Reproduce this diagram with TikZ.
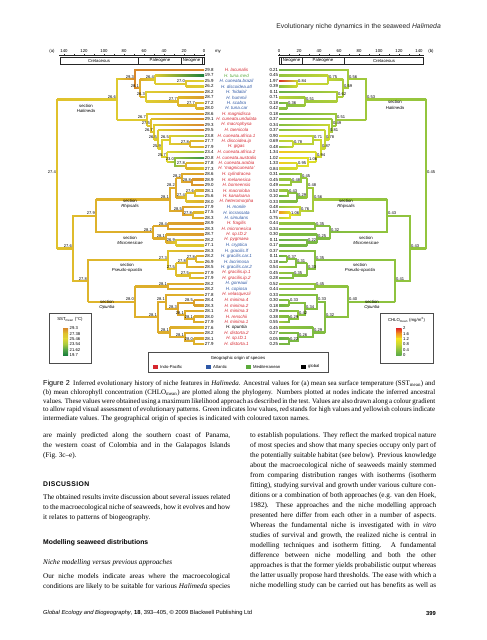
\documentclass[tikz,border=0pt]{standalone}
\usepackage{fontspec}
\setmainfont{Liberation Serif}
\setsansfont{Liberation Sans}
\usetikzlibrary{calc,backgrounds}

\definecolor{s0}{HTML}{1B7F3B}
\definecolor{s1}{HTML}{52A447}
\definecolor{s2}{HTML}{A6C93E}
\definecolor{s3}{HTML}{DCD535}
\definecolor{s4}{HTML}{E0C22C}
\definecolor{s5}{HTML}{D8882A}
\definecolor{c0}{HTML}{5DAA48}
\definecolor{c1}{HTML}{8CC23F}
\definecolor{c2}{HTML}{C8D634}
\definecolor{c3}{HTML}{F2E41F}
\definecolor{c4}{HTML}{F2941E}
\definecolor{c5}{HTML}{DE2428}
\definecolor{ipred}{HTML}{D6262E}
\definecolor{atblue}{HTML}{2E58A6}
\definecolor{medgreen}{HTML}{5BAA3C}

\newcommand\mapcol[5]{%
  \pgfmathsetmacro\mct{max(0,min(4.999,(#2-#3)/#4))}%
  \pgfmathtruncatemacro\mck{\mct}%
  \pgfmathtruncatemacro\mcn{\mck+1}%
  \pgfmathsetmacro\mcp{(\mct-\mck)*100}%
  \colorlet{#5}{#1\mcn!\mcp!#1\mck}}
\newcommand\leaf[5]{%
  \coordinate (at#1) at (204,{70+(#1-1)*5.48});
  \coordinate (bt#1) at (279,{70+(#1-1)*5.48});
  \expandafter\def\csname svt#1\endcsname{#4}%
  \expandafter\def\csname cvt#1\endcsname{#5}%
  \node[tval,anchor=west] (st#1) at (at#1) {#4};
  \node[taxon,text=#3] (nm#1) at (236.5,{70+(#1-1)*5.48}) {#2};
  \node[tval,anchor=east] (ct#1) at (bt#1) {#5};}
\newcommand\inode[5]{%
  \coordinate (a#1) at (#2,{70+(#3-1)*5.48});
  \coordinate (b#1) at ({483-#2},{70+(#3-1)*5.48});
  \expandafter\def\csname sv#1\endcsname{#4}%
  \expandafter\def\csname cv#1\endcsname{#5}%
  \node[nvall] (la#1) at (a#1) {#4};
  \node[nvalr] (lb#1) at (b#1) {#5};}
\newcommand\hbranch[2]{%
  \mapcol{s}{\csname sv#1\endcsname}{19.7}{1.92}{pc}%
  \mapcol{s}{\csname sv#2\endcsname}{19.7}{1.92}{cc}%
  \shade[left color=pc,right color=cc] ($(a#2 -| a#1)+(0,-0.65)$) rectangle ($(a#2)+(0,0.65)$);
  \mapcol{c}{\csname cv#1\endcsname}{0}{0.4}{pc}%
  \mapcol{c}{\csname cv#2\endcsname}{0}{0.4}{cc}%
  \shade[left color=cc,right color=pc] ($(b#2)+(0,-0.65)$) rectangle ($(b#2 -| b#1)+(0,0.65)$);}
\newcommand\clade[3]{%
  \begin{scope}[on background layer]
  \mapcol{s}{\csname sv#1\endcsname}{19.7}{1.92}{pc}%
  \draw[branch,pc] (a#2 -| a#1) -- (a#3 -| a#1);
  \mapcol{c}{\csname cv#1\endcsname}{0}{0.4}{pc}%
  \draw[branch,pc] (b#2 -| b#1) -- (b#3 -| b#1);
  \hbranch{#1}{#2}\hbranch{#1}{#3}%
  \end{scope}}
\newcommand\jl[2][187pt]{\makebox[#1][s]{#2}}

\begin{document}
\begin{tikzpicture}[x=1pt,y=-1pt,
  tval/.style={font=\sffamily\fontsize{4.4}{5}\selectfont,inner sep=0.7pt},
  taxon/.style={font=\sffamily\itshape\fontsize{4.5}{5}\selectfont,inner sep=0pt},
  nvall/.style={font=\sffamily\fontsize{4.1}{5}\selectfont,inner sep=0.2pt,anchor=south east,xshift=-0.7pt,yshift=0.5pt},
  nvalr/.style={font=\sffamily\fontsize{4.1}{5}\selectfont,inner sep=0.2pt,anchor=south west,xshift=0.7pt,yshift=0.5pt},
  branch/.style={line width=1.3pt,line cap=rect},
  seclab/.style={font=\sffamily\fontsize{4.3}{5.2}\selectfont,align=center,inner sep=0pt},
  axlab/.style={font=\sffamily\fontsize{4.3}{5}\selectfont,inner sep=0pt},
  thin/.style={line width=0.45pt,black!85},
  legbox/.style={line width=0.8pt,black!70},
  leglab/.style={font=\sffamily\fontsize{4.2}{5}\selectfont,inner sep=0pt,anchor=west},
  head/.style={font=\sffamily\fontsize{6.8}{8}\selectfont,text=black!85,inner sep=0pt},
  capt/.style={font=\fontsize{6.95}{8.8}\selectfont,align=left,inner sep=0pt,anchor=north west},
  body/.style={font=\fontsize{7.2}{10}\selectfont,align=left,inner sep=0pt,anchor=north west},
  heading/.style={font=\sffamily\bfseries\fontsize{6.8}{8}\selectfont,inner sep=0pt,anchor=west},
  foot/.style={font=\sffamily\fontsize{5.8}{7}\selectfont,inner sep=0pt}]
\begin{scope}[on background layer]
\fill[white] (0,0) rectangle (487,640);
\end{scope}
\useasboundingbox (0,0) rectangle (487,640);

\node[head,anchor=east] (head) at (441,27) {Evolutionary niche dynamics in the seaweed \textit{Halimeda}};

\node[axlab] (pa) at (52,51) {(a)};
\node[axlab] (pb) at (431,51) {(b)};
\node[axlab] (my) at (218,51.5) {my};
\draw[thin] (59,55.5) -- (205,55.5) (278,55.5) -- (424,55.5);
\foreach \v in {0,10,...,140} {\draw[thin] ({204-\v},55.5) -- ({204-\v},53.8) ({279+\v},55.5) -- ({279+\v},53.8);}
\foreach \v in {0,20,...,140} {\node[axlab] (al\v) at ({204-\v},51.5) {\v}; \node[axlab] (ar\v) at ({279+\v},51.5) {\v};}
\draw[thin] (60,57.5) rectangle (204,64) (138.5,57.5) -- (138.5,64) (181,57.5) -- (181,64) (202,57.5) -- (202,64);
\draw[thin] (279,57.5) rectangle (423,64) (281,57.5) -- (281,64) (302,57.5) -- (302,64) (344.5,57.5) -- (344.5,64);
\node[axlab] (crea) at (99,60.8) {Cretaceous};
\node[axlab] (pala) at (160,60.8) {Paleogene};
\node[axlab] (neoa) at (191.5,60.8) {Neogene};
\node[axlab] (neob) at (291.5,60.8) {Neogene};
\node[axlab] (palb) at (323,60.8) {Paleogene};
\node[axlab] (creb) at (384,60.8) {Cretaceous};

\leaf{1}{H. lacunalis}{ipred}{29.8}{0.21}
\leaf{2}{H. tuna.med}{medgreen}{19.7}{0.45}
\leaf{3}{H. cuneata.brazil}{atblue}{25.9}{1.97}
\leaf{4}{H. discoidea.atl}{atblue}{26.2}{0.39}
\leaf{5}{H. `hidalai'}{atblue}{28.2}{0.11}
\leaf{6}{H. hummii}{atblue}{28.7}{0.71}
\leaf{7}{H. scabra}{atblue}{27.2}{0.18}
\leaf{8}{H. tuna.car}{atblue}{28.0}{0.42}
\leaf{9}{H. magnidisca}{ipred}{28.6}{0.18}
\leaf{10}{H. cuneata.undulata}{ipred}{29.1}{0.37}
\leaf{11}{H. macrophysa}{ipred}{29.3}{0.34}
\leaf{12}{H. taenicola}{ipred}{29.5}{0.37}
\leaf{13}{H. cuneata.africa.1}{ipred}{23.8}{0.90}
\leaf{14}{H. discoidea.ip}{ipred}{27.7}{0.69}
\leaf{15}{H. gigas}{ipred}{27.9}{0.48}
\leaf{16}{H. cuneata.africa.2}{ipred}{23.4}{1.34}
\leaf{17}{H. cuneata.australis}{ipred}{20.8}{1.02}
\leaf{18}{H. cuneata.arabia}{ipred}{27.8}{1.33}
\leaf{19}{H. `magnicuneata'}{ipred}{27.3}{0.84}
\leaf{20}{H. cylindracea}{ipred}{28.6}{0.31}
\leaf{21}{H. melanesica}{ipred}{28.9}{0.45}
\leaf{22}{H. borneensis}{ipred}{29.0}{0.49}
\leaf{23}{H. macroloba}{ipred}{28.1}{0.52}
\leaf{24}{H. kanaloana}{ipred}{25.6}{0.10}
\leaf{25}{H. heteromorpha}{ipred}{28.0}{0.33}
\leaf{26}{H. monile}{atblue}{27.9}{0.48}
\leaf{27}{H. incrassata}{atblue}{27.5}{1.57}
\leaf{28}{H. simulans}{atblue}{28.3}{0.75}
\leaf{29}{H. fragilis}{ipred}{28.9}{0.44}
\leaf{30}{H. micronesica}{ipred}{28.3}{0.34}
\leaf{31}{H. sp.ID.2}{ipred}{28.7}{0.30}
\leaf{32}{H. pygmaea}{ipred}{28.2}{0.11}
\leaf{33}{H. cryptica}{atblue}{27.1}{0.17}
\leaf{34}{H. gracilis.lf}{atblue}{28.3}{0.37}
\leaf{35}{H. gracilis.car.1}{atblue}{28.2}{0.11}
\leaf{36}{H. lacrimosa}{atblue}{26.9}{0.18}
\leaf{37}{H. gracilis.car.2}{atblue}{28.5}{0.54}
\leaf{38}{H. gracilis.ip.1}{ipred}{27.9}{0.45}
\leaf{39}{H. gracilis.ip.2}{ipred}{27.9}{0.28}
\leaf{40}{H. goreauii}{atblue}{28.2}{0.52}
\leaf{41}{H. copiosa}{atblue}{28.2}{0.44}
\leaf{42}{H. velasquezii}{ipred}{27.8}{0.33}
\leaf{43}{H. minima.4}{ipred}{28.4}{0.30}
\leaf{44}{H. minima.2}{ipred}{28.3}{0.18}
\leaf{45}{H. minima.3}{ipred}{28.1}{0.29}
\leaf{46}{H. renschii}{ipred}{28.0}{0.38}
\leaf{47}{H. minima.1}{ipred}{27.9}{0.55}
\leaf{48}{H. opuntia}{black}{27.6}{0.45}
\leaf{49}{H. distorta.2}{ipred}{28.2}{0.27}
\leaf{50}{H. sp.ID.1}{ipred}{28.1}{0.05}
\leaf{51}{H. distorta.1}{ipred}{27.9}{0.25}

\inode{Root}{57}{19.97}{27.4}{0.45}
\inode{H}{117}{6.37}{26.6}{0.53}
\inode{A}{135}{2.656}{29.3}{0.56}
\inode{C}{140}{4.3125}{28.1}{0.59}
\inode{D}{155}{2.75}{26.4}{0.75}
\inode{F}{186}{3.5}{27.0}{0.84}
\inode{E}{146}{5.875}{26.3}{0.62}
\inode{I}{178}{6.75}{27.7}{0.51}
\inode{J}{196}{7.5}{27.7}{0.36}
\inode{K}{147}{10.08}{26.7}{0.51}
\inode{K1}{151}{11.17}{27.5}{0.49}
\inode{K2}{154}{12.33}{26.7}{0.81}
\inode{K3}{158}{13.66}{26.5}{0.78}
\inode{K4}{162}{15.31}{25.9}{0.87}
\inode{K4b}{170}{13.75}{26.5}{0.71}
\inode{K4a}{190}{14.5}{27.8}{0.78}
\inode{K4e}{167}{16.875}{25.7}{0.94}
\inode{K4d}{175}{17.75}{23.0}{1.06}
\inode{K4c}{186}{18.5}{27.8}{0.95}
\inode{N}{73}{33.56}{27.6}{0.43}
\inode{RM}{96}{27.625}{27.9}{0.43}
\inode{Rh}{170}{24.625}{28.1}{0.56}
\inode{U}{176}{22.5}{28.2}{0.48}
\inode{U1}{182}{20.75}{28.2}{0.45}
\inode{U1i}{192}{21.5}{28.8}{0.48}
\inode{U2}{186}{24.25}{27.4}{0.29}
\inode{U2i}{195}{23.5}{27.6}{0.43}
\inode{V}{183}{26.75}{28.5}{0.76}
\inode{Vi}{193}{27.5}{27.8}{1.06}
\inode{Mi}{153}{30.625}{28.2}{0.32}
\inode{M1}{168}{29.5}{28.4}{0.35}
\inode{M2}{166}{31.75}{28.1}{0.25}
\inode{M2i}{176}{32.5}{26.9}{0.22}
\inode{PO}{88}{39.5}{27.8}{0.41}
\inode{Ps}{168}{35.69}{27.3}{0.35}
\inode{Pd}{176}{37.375}{27.5}{0.33}
\inode{Pb}{187}{36.25}{27.8}{0.31}
\inode{Pa}{196}{35.5}{27.8}{0.37}
\inode{Pc}{190}{38.5}{27.5}{0.35}
\inode{Op}{135}{43.3}{28.0}{0.40}
\inode{O1}{168}{40.5}{28.1}{0.45}
\inode{O2}{158}{46.09}{28.1}{0.32}
\inode{O2a}{166}{43.31}{28.1}{0.33}
\inode{Om}{178}{44.625}{28.3}{0.34}
\inode{Om1}{194}{43.5}{28.5}{0.33}
\inode{Om2}{185}{45.75}{28.1}{0.42}
\inode{Om2i}{194}{46.5}{28.1}{0.29}
\inode{O2b}{170}{48.875}{28.1}{0.29}
\inode{Ob1}{185}{49.75}{28.1}{0.26}
\inode{Ob2}{194}{50.5}{28.0}{0.22}

\clade{Root}{H}{N} \clade{H}{A}{K} \clade{A}{t1}{C} \clade{C}{D}{E} \clade{D}{t2}{F}
\clade{F}{t3}{t4} \clade{E}{t5}{I} \clade{I}{t6}{J} \clade{J}{t7}{t8}
\clade{K}{t9}{K1} \clade{K1}{t10}{K2} \clade{K2}{t11}{K3} \clade{K3}{t12}{K4}
\clade{K4}{K4b}{K4e} \clade{K4b}{t13}{K4a} \clade{K4a}{t14}{t15}
\clade{K4e}{t16}{K4d} \clade{K4d}{t17}{K4c} \clade{K4c}{t18}{t19}
\clade{N}{RM}{PO} \clade{RM}{Rh}{Mi} \clade{Rh}{U}{V} \clade{U}{U1}{U2}
\clade{U1}{t20}{U1i} \clade{U1i}{t21}{t22} \clade{U2}{U2i}{t25} \clade{U2i}{t23}{t24}
\clade{V}{t26}{Vi} \clade{Vi}{t27}{t28}
\clade{Mi}{M1}{M2} \clade{M1}{t29}{t30} \clade{M2}{t31}{M2i} \clade{M2i}{t32}{t33}
\clade{PO}{Ps}{Op} \clade{Ps}{t34}{Pd} \clade{Pd}{Pb}{Pc} \clade{Pb}{Pa}{t37}
\clade{Pa}{t35}{t36} \clade{Pc}{t38}{t39}
\clade{Op}{O1}{O2} \clade{O1}{t40}{t41} \clade{O2}{O2a}{O2b} \clade{O2a}{t42}{Om}
\clade{Om}{Om1}{Om2} \clade{Om1}{t43}{t44} \clade{Om2}{t45}{Om2i} \clade{Om2i}{t46}{t47}
\clade{O2b}{t48}{Ob1} \clade{Ob1}{t49}{Ob2} \clade{Ob2}{t50}{t51}

\node[seclab] (sha) at (86,108.5) {section\\\textit{Halimeda}};
\node[seclab] (shb) at (395,105) {section\\\textit{Halimeda}};
\node[seclab] (sra) at (130,203.5) {section\\\textit{Rhipsalis}};
\node[seclab] (srb) at (346,204) {section\\\textit{Rhipsalis}};
\node[seclab] (sma) at (130,240.5) {section\\\textit{Micronesicae}};
\node[seclab] (smb) at (366,240.5) {section\\\textit{Micronesicae}};
\node[seclab] (spa) at (127,267.5) {section\\\textit{Pseudo-opuntia}};
\node[seclab] (spb) at (360,267.5) {section\\\textit{Pseudo-opuntia}};
\node[seclab] (soa) at (107,304.5) {section\\\textit{Opuntia}};
\node[seclab] (sob) at (372,305) {section\\\textit{Opuntia}};

\draw[legbox] (49,313) rectangle (91,363);
\node[axlab] (sstt) at (70,319.5) {SST\textsubscript{mean} (°C)};
\shade[top color=s5,bottom color=s4] (63,328) rectangle (68,333.5);
\shade[top color=s4,bottom color=s3] (63,333.4) rectangle (68,338.9);
\shade[top color=s3,bottom color=s2] (63,338.8) rectangle (68,344.3);
\shade[top color=s2,bottom color=s1] (63,344.2) rectangle (68,349.7);
\shade[top color=s1,bottom color=s0] (63,349.6) rectangle (68,355);
\node[leglab] (ss1) at (69.5,328.5) {29.3};
\node[leglab] (ss2) at (69.5,333.8) {27.38};
\node[leglab] (ss3) at (69.5,339.1) {25.46};
\node[leglab] (ss4) at (69.5,344.4) {23.54};
\node[leglab] (ss5) at (69.5,349.7) {21.62};
\node[leglab] (ss6) at (69.5,355) {19.7};

\draw[legbox] (380,313) rectangle (433,363);
\node[axlab] (chlt) at (406.5,319.5) {CHLO\textsubscript{mean} (mg/m\textsuperscript{3})};
\shade[top color=c5,bottom color=c4] (396,328) rectangle (401.5,333.5);
\shade[top color=c4,bottom color=c3] (396,333.4) rectangle (401.5,338.9);
\shade[top color=c3,bottom color=c2] (396,338.8) rectangle (401.5,344.3);
\shade[top color=c2,bottom color=c1] (396,344.2) rectangle (401.5,349.7);
\shade[top color=c1,bottom color=c0] (396,349.6) rectangle (401.5,355);
\node[leglab] (cc1) at (403,328.5) {2};
\node[leglab] (cc2) at (403,333.8) {1.6};
\node[leglab] (cc3) at (403,339.1) {1.2};
\node[leglab] (cc4) at (403,344.4) {0.8};
\node[leglab] (cc5) at (403,349.7) {0.4};
\node[leglab] (cc6) at (403,355) {0};

\draw[legbox] (148,352.5) rectangle (328,372);
\node[axlab] (geot) at (238,358.5) {Geographic origin of species};
\fill[ipred] (152.5,364.7) rectangle (157.5,368.7);
\node[leglab] (gip) at (160,366.7) {Indo-Pacific};
\fill[atblue] (205.5,364.7) rectangle (210.5,368.7);
\node[leglab] (gat) at (213,366.7) {Atlantic};
\fill[medgreen] (245.5,364.7) rectangle (250.5,368.7);
\node[leglab] (gme) at (253,366.7) {Mediterranean};
\fill[black] (300.5,364.7) rectangle (305.5,368.7);
\node[leglab] (ggl) at (308,366.7) {global};

\node[capt] (capt) at (43,380) {%
\jl[392pt]{\textsf{\fontsize{7.2}{8.8}\selectfont Figure 2}\enspace Inferred evolutionary history of niche features in \textit{Halimeda}. Ancestral values for (a) mean sea surface temperature (SST\textsubscript{mean}) and}\\
\jl[392pt]{(b) mean chlorophyll concentration (CHLO\textsubscript{mean}) are plotted along the phylogeny. Numbers plotted at nodes indicate the inferred ancestral}\\
\jl[392pt]{values. These values were obtained using a maximum likelihood approach as described in the test. Values are also drawn along a colour gradient}\\
\jl[392pt]{to allow rapid visual assessment of evolutionary patterns. Green indicates low values, red stands for high values and yellowish colours indicate}\\
intermediate values. The geographical origin of species is indicated with coloured taxon names.};

\node[body] (p1) at (43,432.5) {%
\jl{are mainly predicted along the southern coast of Panama,}\\
\jl{the western coast of Colombia and in the Galapagos Islands}\\
(Fig.~3c--e).};
\node[heading] (disc) at (43,484) {\addfontfeatures{LetterSpace=6}DISCUSSION};
\node[body] (p2) at (43,494.5) {%
\jl{The obtained results invite discussion about several issues related}\\
\jl{to the macroecological niche of seaweeds, how it evolves and how}\\
it relates to patterns of biogeography.};
\node[heading] (modl) at (43,543) {Modelling seaweed distributions};
\node[body,anchor=west] (nich) at (43,563) {\textit{Niche modelling versus previous approaches}};
\node[body] (p3) at (43,573.5) {%
\jl{Our niche models indicate areas where the macroecological}\\
\jl{conditions are likely to be suitable for various \textit{Halimeda} species}};
\node[body] (p4) at (250,432.5) {%
\jl[186pt]{to establish populations. They reflect the marked tropical nature}\\
\jl[186pt]{of most species and show that many species occupy only part of}\\
\jl[186pt]{the potentially suitable habitat (see below). Previous knowledge}\\
\jl[186pt]{about the macroecological niche of seaweeds mainly stemmed}\\
\jl[186pt]{from comparing distribution ranges with isotherms (isotherm}\\
\jl[186pt]{fitting), studying survival and growth under various culture con-}\\
\jl[186pt]{ditions or a combination of both approaches (e.g. van den Hoek,}\\
\jl[186pt]{1982). These approaches and the niche modelling approach}\\
\jl[186pt]{presented here differ from each other in a number of aspects.}\\
\jl[186pt]{Whereas the fundamental niche is investigated with \textit{in vitro}}\\
\jl[186pt]{studies of survival and growth, the realized niche is central in}\\
\jl[186pt]{modelling techniques and isotherm fitting. A fundamental}\\
\jl[186pt]{difference between niche modelling and both the other}\\
\jl[186pt]{approaches is that the former yields probabilistic output whereas}\\
\jl[186pt]{the latter usually propose hard thresholds. The ease with which a}\\
\jl[186pt]{niche modelling study can be carried out has benefits as well as}};

\node[foot,anchor=west] (foot) at (43,613) {\textit{Global Ecology and Biogeography}, \textbf{18}, 393--405, © 2009 Blackwell Publishing Ltd};
\node[foot,anchor=east] (pgno) at (436,613) {\textbf{399}};
\end{tikzpicture}
\end{document}
